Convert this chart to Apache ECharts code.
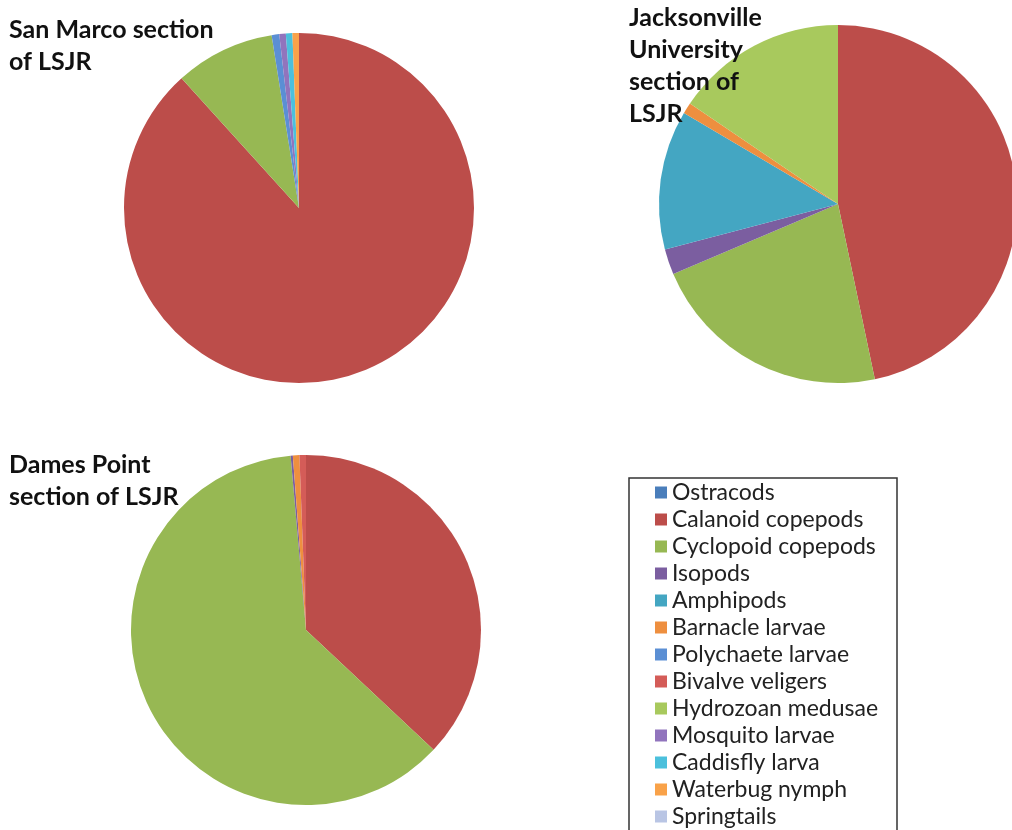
<!DOCTYPE html>
<html>
<head>
<meta charset="utf-8">
<script src="https://cdn.jsdelivr.net/npm/echarts@6/dist/echarts.min.js"></script>
<style>
  html, body { margin: 0; padding: 0; background: #fff; }
  #chart { width: 1012px; height: 830px; }
</style>
</head>
<body>
<div id="chart"></div>
<script>
// taxa, same order as the legend
var taxa = ['Ostracods', 'Calanoid copepods', 'Cyclopoid copepods', 'Isopods', 'Amphipods',
  'Barnacle larvae', 'Polychaete larvae', 'Bivalve veligers', 'Hydrozoan medusae',
  'Mosquito larvae', 'Caddisfly larva', 'Waterbug nymph', 'Springtails'];

// percent of sample
var sanMarco     = [0, 88.2, 9.2, 0, 0, 0, 0.7, 0, 0, 0.6, 0.6, 0.6, 0];
var jacksonville = [0, 46.7, 21.9, 2.3, 12.6, 1.0, 0, 0, 15.5, 0, 0, 0, 0];
var damesPoint   = [0, 37.0, 61.6, 0.2, 0, 0.6, 0, 0.6, 0, 0, 0, 0, 0];

var colors = ['#4a7ebb', '#bc4d4a', '#97b853', '#7b5ea0', '#44a6c2', '#ee8f3f', '#5b8fd4',
  '#d45c58', '#a8c95d', '#9174bd', '#4bc0dc', '#f9a249', '#b9c5e4'];

var chartDom = document.getElementById('chart');
var myChart = echarts.init(chartDom);

function pieData(vals) {
  return taxa.map(function (t, i) {
    return { name: t, value: vals[i], itemStyle: { color: colors[i] } };
  });
}

function pie(vals, center, r) {
  return {
    type: 'pie',
    center: center,
    radius: r,
    startAngle: 90,
    clockwise: true,
    label: { show: false },
    labelLine: { show: false },
    emphasis: { disabled: true },
    itemStyle: { borderWidth: 0 },
    silent: true,
    animation: false,
    data: pieData(vals)
  };
}

var titleStyle = {
  fontFamily: 'Lato',
  fontWeight: 'bold',
  fontSize: 25,
  lineHeight: 32,
  color: '#111'
};

var option = {
  animation: false,
  title: [
    { text: 'San Marco section\nof LSJR', left: 9, top: 14, padding: 0, textStyle: titleStyle },
    { text: 'Jacksonville\nUniversity\nsection of\nLSJR', left: 629, top: 2, padding: 0, textStyle: titleStyle },
    { text: 'Dames Point\nsection of LSJR', left: 9, top: 449, padding: 0, textStyle: titleStyle }
  ],
  legend: {
    orient: 'vertical',
    left: 655,
    top: 481,
    padding: 0,
    itemGap: 4,
    itemWidth: 12,
    itemHeight: 12,
    icon: 'rect',
    selectedMode: false,
    data: taxa,
    textStyle: { fontFamily: 'Lato', fontSize: 23, lineHeight: 23, color: '#222' }
  },
  graphic: [
    {
      type: 'rect',
      shape: { x: 629, y: 478, width: 268, height: 370 },
      style: { fill: 'none', stroke: '#333', lineWidth: 1.5 },
      z: 0
    }
  ],
  series: [
    pie(sanMarco, [299, 208], 175),
    pie(jacksonville, [838, 204], 179),
    pie(damesPoint, [306, 630], 175)
  ]
};

option && myChart.setOption(option);
</script>
</body>
</html>
